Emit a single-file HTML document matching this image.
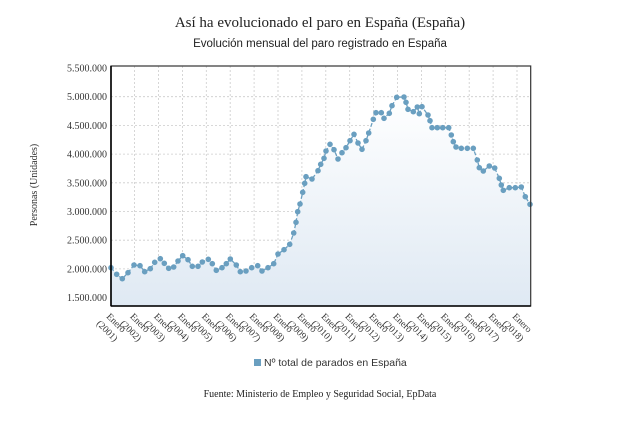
<!DOCTYPE html>
<html><head><meta charset="utf-8"><style>
html,body{margin:0;padding:0;background:#fff;width:640px;height:431px;overflow:hidden}
svg{display:block}
.ser{font-family:"Liberation Serif",serif}
.san{font-family:"Liberation Sans",sans-serif}
</style></head><body>
<svg width="640" height="431" viewBox="0 0 640 431" xmlns="http://www.w3.org/2000/svg">
<defs>
<linearGradient id="g" x1="0" y1="0" x2="0" y2="1">
<stop offset="0" stop-color="#ffffff"/><stop offset="1" stop-color="#dfe9f3"/>
</linearGradient>
</defs>
<text class="ser" x="320" y="27" font-size="15" text-anchor="middle" fill="#222">Así ha evolucionado el paro en España (España)</text>
<text class="san" x="320" y="47" font-size="11.5" text-anchor="middle" fill="#222">Evolución mensual del paro registrado en España</text>
<text class="ser" transform="translate(37,185) rotate(-90)" font-size="10" text-anchor="middle" fill="#333">Personas (Unidades)</text>

<g stroke="#ccc" stroke-width="0.8" stroke-dasharray="2,2">
<line x1="111" y1="96.7" x2="530.7" y2="96.7"/><line x1="111" y1="125.4" x2="530.7" y2="125.4"/><line x1="111" y1="154.1" x2="530.7" y2="154.1"/><line x1="111" y1="182.8" x2="530.7" y2="182.8"/><line x1="111" y1="211.5" x2="530.7" y2="211.5"/><line x1="111" y1="240.2" x2="530.7" y2="240.2"/><line x1="111" y1="268.9" x2="530.7" y2="268.9"/><line x1="111" y1="297.6" x2="530.7" y2="297.6"/>
<line x1="134.6" y1="66" x2="134.6" y2="306"/><line x1="158.5" y1="66" x2="158.5" y2="306"/><line x1="182.4" y1="66" x2="182.4" y2="306"/><line x1="206.3" y1="66" x2="206.3" y2="306"/><line x1="230.2" y1="66" x2="230.2" y2="306"/><line x1="254.1" y1="66" x2="254.1" y2="306"/><line x1="278" y1="66" x2="278" y2="306"/><line x1="301.9" y1="66" x2="301.9" y2="306"/><line x1="325.8" y1="66" x2="325.8" y2="306"/><line x1="349.7" y1="66" x2="349.7" y2="306"/><line x1="373.6" y1="66" x2="373.6" y2="306"/><line x1="397.5" y1="66" x2="397.5" y2="306"/><line x1="421.4" y1="66" x2="421.4" y2="306"/><line x1="445.3" y1="66" x2="445.3" y2="306"/><line x1="469.2" y1="66" x2="469.2" y2="306"/><line x1="493.1" y1="66" x2="493.1" y2="306"/><line x1="517" y1="66" x2="517" y2="306"/>
</g>

<polygon fill="url(#g)" points="111,306 111,267.7 116.7,274.3 122.3,278.7 128,272.7 134,265 140,265.7 144.7,271.7 150.3,268.7 154.7,262.3 160.3,258.7 164.3,263.3 168.7,268.3 173.7,267 178,261 182.7,255.7 188,259.7 192.3,266.3 198,266.3 202.3,262 208.3,259.3 212.3,263.7 216.3,270.3 222,267.7 226.3,263.7 230.3,259 236.3,265 240.3,271.7 246,271 251.7,267.7 257.7,265.7 262,271 268,267.7 273.7,263.7 278,254 284,249.7 289.7,244.3 293.7,233 296,222.3 297.7,211.7 300,204 302.7,192.3 304.7,183.3 306,176.7 312,179 318,170.7 320.7,164.3 324,158.3 326,151 330,144.3 334,149.7 338,159 342,152.7 346,147.7 350,140.7 354,134.3 358,143 362,149.3 366,140.7 368.7,133 373.3,119.3 376,112.7 381.3,112.7 384,118.3 389.3,113.3 392,105.7 396.7,97.3 404,97 406,102.3 408,109.3 413.3,111.7 417.3,107 419.3,113.7 422,106.7 428,115 430,120.7 432,127.7 437.3,127.7 442.7,127.7 448.7,127.7 451.3,135 453.3,141.7 456,147 461.3,148.3 467.3,148.3 473.3,148.3 477.3,160 479.3,167.7 483.3,171 489.3,166 494.7,168 499.3,178.3 501.3,185 503.3,190.3 509.3,187.7 515.3,187.7 521.3,187 525.3,196.7 530,204.3 530,306"/>

<polyline fill="none" stroke="#6a9fc0" stroke-width="1.3" stroke-dasharray="4,2" points="111,267.7 116.7,274.3 122.3,278.7 128,272.7 134,265 140,265.7 144.7,271.7 150.3,268.7 154.7,262.3 160.3,258.7 164.3,263.3 168.7,268.3 173.7,267 178,261 182.7,255.7 188,259.7 192.3,266.3 198,266.3 202.3,262 208.3,259.3 212.3,263.7 216.3,270.3 222,267.7 226.3,263.7 230.3,259 236.3,265 240.3,271.7 246,271 251.7,267.7 257.7,265.7 262,271 268,267.7 273.7,263.7 278,254 284,249.7 289.7,244.3 293.7,233 296,222.3 297.7,211.7 300,204 302.7,192.3 304.7,183.3 306,176.7 312,179 318,170.7 320.7,164.3 324,158.3 326,151 330,144.3 334,149.7 338,159 342,152.7 346,147.7 350,140.7 354,134.3 358,143 362,149.3 366,140.7 368.7,133 373.3,119.3 376,112.7 381.3,112.7 384,118.3 389.3,113.3 392,105.7 396.7,97.3 404,97 406,102.3 408,109.3 413.3,111.7 417.3,107 419.3,113.7 422,106.7 428,115 430,120.7 432,127.7 437.3,127.7 442.7,127.7 448.7,127.7 451.3,135 453.3,141.7 456,147 461.3,148.3 467.3,148.3 473.3,148.3 477.3,160 479.3,167.7 483.3,171 489.3,166 494.7,168 499.3,178.3 501.3,185 503.3,190.3 509.3,187.7 515.3,187.7 521.3,187 525.3,196.7 530,204.3"/>

<g fill="#6a9fc0">
<circle cx="111" cy="267.7" r="2.8"/><circle cx="116.7" cy="274.3" r="2.8"/><circle cx="122.3" cy="278.7" r="2.8"/><circle cx="128" cy="272.7" r="2.8"/><circle cx="134" cy="265" r="2.8"/><circle cx="140" cy="265.7" r="2.8"/><circle cx="144.7" cy="271.7" r="2.8"/><circle cx="150.3" cy="268.7" r="2.8"/><circle cx="154.7" cy="262.3" r="2.8"/><circle cx="160.3" cy="258.7" r="2.8"/><circle cx="164.3" cy="263.3" r="2.8"/><circle cx="168.7" cy="268.3" r="2.8"/><circle cx="173.7" cy="267" r="2.8"/><circle cx="178" cy="261" r="2.8"/><circle cx="182.7" cy="255.7" r="2.8"/><circle cx="188" cy="259.7" r="2.8"/><circle cx="192.3" cy="266.3" r="2.8"/><circle cx="198" cy="266.3" r="2.8"/><circle cx="202.3" cy="262" r="2.8"/><circle cx="208.3" cy="259.3" r="2.8"/><circle cx="212.3" cy="263.7" r="2.8"/><circle cx="216.3" cy="270.3" r="2.8"/><circle cx="222" cy="267.7" r="2.8"/><circle cx="226.3" cy="263.7" r="2.8"/><circle cx="230.3" cy="259" r="2.8"/><circle cx="236.3" cy="265" r="2.8"/><circle cx="240.3" cy="271.7" r="2.8"/><circle cx="246" cy="271" r="2.8"/><circle cx="251.7" cy="267.7" r="2.8"/><circle cx="257.7" cy="265.7" r="2.8"/><circle cx="262" cy="271" r="2.8"/><circle cx="268" cy="267.7" r="2.8"/><circle cx="273.7" cy="263.7" r="2.8"/><circle cx="278" cy="254" r="2.8"/><circle cx="284" cy="249.7" r="2.8"/><circle cx="289.7" cy="244.3" r="2.8"/><circle cx="293.7" cy="233" r="2.8"/><circle cx="296" cy="222.3" r="2.8"/><circle cx="297.7" cy="211.7" r="2.8"/><circle cx="300" cy="204" r="2.8"/><circle cx="302.7" cy="192.3" r="2.8"/><circle cx="304.7" cy="183.3" r="2.8"/><circle cx="306" cy="176.7" r="2.8"/><circle cx="312" cy="179" r="2.8"/><circle cx="318" cy="170.7" r="2.8"/><circle cx="320.7" cy="164.3" r="2.8"/><circle cx="324" cy="158.3" r="2.8"/><circle cx="326" cy="151" r="2.8"/><circle cx="330" cy="144.3" r="2.8"/><circle cx="334" cy="149.7" r="2.8"/><circle cx="338" cy="159" r="2.8"/><circle cx="342" cy="152.7" r="2.8"/><circle cx="346" cy="147.7" r="2.8"/><circle cx="350" cy="140.7" r="2.8"/><circle cx="354" cy="134.3" r="2.8"/><circle cx="358" cy="143" r="2.8"/><circle cx="362" cy="149.3" r="2.8"/><circle cx="366" cy="140.7" r="2.8"/><circle cx="368.7" cy="133" r="2.8"/><circle cx="373.3" cy="119.3" r="2.8"/><circle cx="376" cy="112.7" r="2.8"/><circle cx="381.3" cy="112.7" r="2.8"/><circle cx="384" cy="118.3" r="2.8"/><circle cx="389.3" cy="113.3" r="2.8"/><circle cx="392" cy="105.7" r="2.8"/><circle cx="396.7" cy="97.3" r="2.8"/><circle cx="404" cy="97" r="2.8"/><circle cx="406" cy="102.3" r="2.8"/><circle cx="408" cy="109.3" r="2.8"/><circle cx="413.3" cy="111.7" r="2.8"/><circle cx="417.3" cy="107" r="2.8"/><circle cx="419.3" cy="113.7" r="2.8"/><circle cx="422" cy="106.7" r="2.8"/><circle cx="428" cy="115" r="2.8"/><circle cx="430" cy="120.7" r="2.8"/><circle cx="432" cy="127.7" r="2.8"/><circle cx="437.3" cy="127.7" r="2.8"/><circle cx="442.7" cy="127.7" r="2.8"/><circle cx="448.7" cy="127.7" r="2.8"/><circle cx="451.3" cy="135" r="2.8"/><circle cx="453.3" cy="141.7" r="2.8"/><circle cx="456" cy="147" r="2.8"/><circle cx="461.3" cy="148.3" r="2.8"/><circle cx="467.3" cy="148.3" r="2.8"/><circle cx="473.3" cy="148.3" r="2.8"/><circle cx="477.3" cy="160" r="2.8"/><circle cx="479.3" cy="167.7" r="2.8"/><circle cx="483.3" cy="171" r="2.8"/><circle cx="489.3" cy="166" r="2.8"/><circle cx="494.7" cy="168" r="2.8"/><circle cx="499.3" cy="178.3" r="2.8"/><circle cx="501.3" cy="185" r="2.8"/><circle cx="503.3" cy="190.3" r="2.8"/><circle cx="509.3" cy="187.7" r="2.8"/><circle cx="515.3" cy="187.7" r="2.8"/><circle cx="521.3" cy="187" r="2.8"/><circle cx="525.3" cy="196.7" r="2.8"/><circle cx="530" cy="204.3" r="2.8"/>
</g>

<rect x="111" y="66" width="419.7" height="240" fill="none" stroke="#333" stroke-width="1.2"/>
<line x1="111" y1="66" x2="111" y2="306" stroke="#000" stroke-width="1.6"/>
<line x1="111" y1="306" x2="530.7" y2="306" stroke="#000" stroke-width="1.6"/>

<g class="ser" font-size="10" text-anchor="end" fill="#333">
<text x="107" y="71.5">5.500.000</text><text x="107" y="100.2">5.000.000</text><text x="107" y="128.9">4.500.000</text><text x="107" y="157.6">4.000.000</text><text x="107" y="186.3">3.500.000</text><text x="107" y="215">3.000.000</text><text x="107" y="243.7">2.500.000</text><text x="107" y="272.4">2.000.000</text><text x="107" y="301.1">1.500.000</text>
</g>

<g class="ser" font-size="9.5" fill="#333">
<text transform="translate(111,312) rotate(45)"><tspan x="0" y="7">Enero</tspan><tspan x="-2" y="19">(2001)</tspan></text>
<text transform="translate(134.6,312) rotate(45)"><tspan x="0" y="7">Enero</tspan><tspan x="-2" y="19">(2002)</tspan></text>
<text transform="translate(158.5,312) rotate(45)"><tspan x="0" y="7">Enero</tspan><tspan x="-2" y="19">(2003)</tspan></text>
<text transform="translate(182.4,312) rotate(45)"><tspan x="0" y="7">Enero</tspan><tspan x="-2" y="19">(2004)</tspan></text>
<text transform="translate(206.3,312) rotate(45)"><tspan x="0" y="7">Enero</tspan><tspan x="-2" y="19">(2005)</tspan></text>
<text transform="translate(230.2,312) rotate(45)"><tspan x="0" y="7">Enero</tspan><tspan x="-2" y="19">(2006)</tspan></text>
<text transform="translate(254.1,312) rotate(45)"><tspan x="0" y="7">Enero</tspan><tspan x="-2" y="19">(2007)</tspan></text>
<text transform="translate(278,312) rotate(45)"><tspan x="0" y="7">Enero</tspan><tspan x="-2" y="19">(2008)</tspan></text>
<text transform="translate(301.9,312) rotate(45)"><tspan x="0" y="7">Enero</tspan><tspan x="-2" y="19">(2009)</tspan></text>
<text transform="translate(325.8,312) rotate(45)"><tspan x="0" y="7">Enero</tspan><tspan x="-2" y="19">(2010)</tspan></text>
<text transform="translate(349.7,312) rotate(45)"><tspan x="0" y="7">Enero</tspan><tspan x="-2" y="19">(2011)</tspan></text>
<text transform="translate(373.6,312) rotate(45)"><tspan x="0" y="7">Enero</tspan><tspan x="-2" y="19">(2012)</tspan></text>
<text transform="translate(397.5,312) rotate(45)"><tspan x="0" y="7">Enero</tspan><tspan x="-2" y="19">(2013)</tspan></text>
<text transform="translate(421.4,312) rotate(45)"><tspan x="0" y="7">Enero</tspan><tspan x="-2" y="19">(2014)</tspan></text>
<text transform="translate(445.3,312) rotate(45)"><tspan x="0" y="7">Enero</tspan><tspan x="-2" y="19">(2015)</tspan></text>
<text transform="translate(469.2,312) rotate(45)"><tspan x="0" y="7">Enero</tspan><tspan x="-2" y="19">(2016)</tspan></text>
<text transform="translate(493.1,312) rotate(45)"><tspan x="0" y="7">Enero</tspan><tspan x="-2" y="19">(2017)</tspan></text>
<text transform="translate(517,312) rotate(45)"><tspan x="0" y="7">Enero</tspan><tspan x="-2" y="19">(2018)</tspan></text>
</g>

<rect x="254" y="359" width="7" height="7" fill="#6a9fc0"/>
<text class="san" x="264" y="366" font-size="10.5" fill="#333">Nº total de parados en España</text>
<text class="ser" x="320" y="397" font-size="10" text-anchor="middle" fill="#222">Fuente: Ministerio de Empleo y Seguridad Social, EpData</text>
</svg>
</body></html>
